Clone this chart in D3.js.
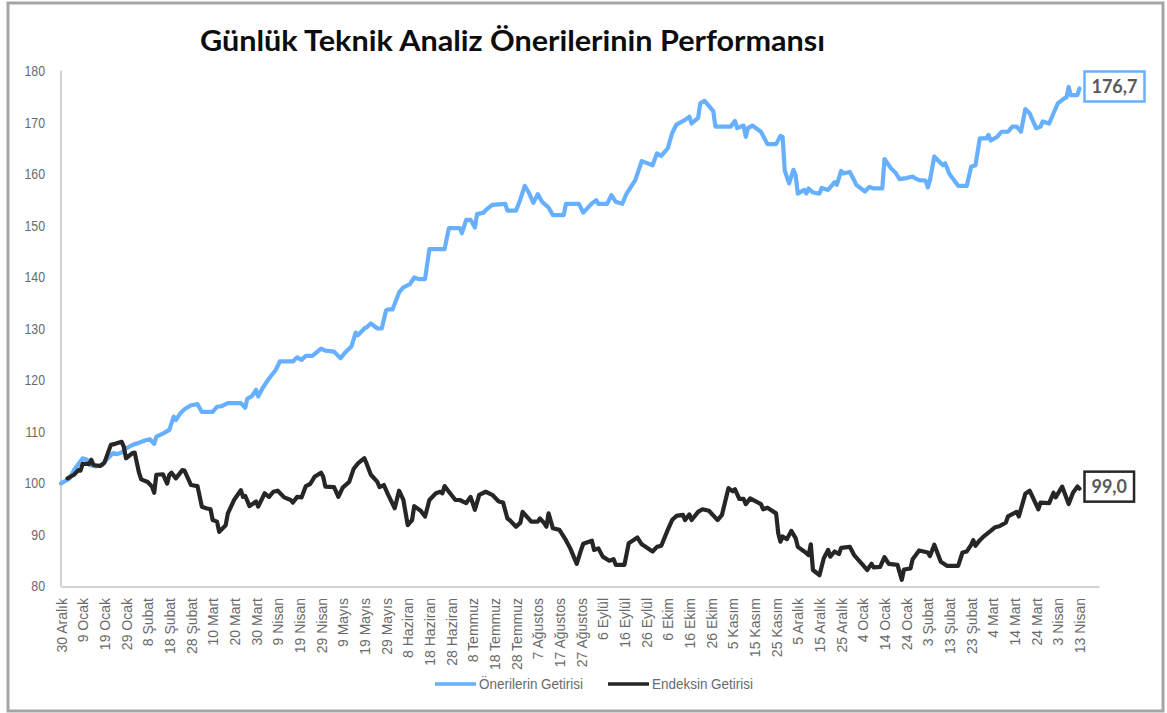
<!DOCTYPE html>
<html>
<head>
<meta charset="utf-8">
<script src="https://cdn.jsdelivr.net/npm/d3@7"></script>
<style>
  html, body { margin: 0; padding: 0; background: #fff; }
  svg { display: block; }
</style>
</head>
<body>
<svg id="chart" width="1167" height="713"></svg>
<script>
// ---------------- DATA ----------------
const chartTitle = "Günlük Teknik Analiz Önerilerinin Performansı";
const seriesNames = ["Önerilerin Getirisi", "Endeksin Getirisi"];
const startDateStr = "2018-12-30";   // day 0 (30 Aralık)

// x tick labels: every 10 days starting 30 Aralık
const xTickLabels = ["30 Aralık","9 Ocak","19 Ocak","29 Ocak","8 Şubat","18 Şubat","28 Şubat","10 Mart","20 Mart","30 Mart",
  "9 Nisan","19 Nisan","29 Nisan","9 Mayıs","19 Mayıs","29 Mayıs","8 Haziran","18 Haziran","28 Haziran","8 Temmuz",
  "18 Temmuz","28 Temmuz","7 Ağustos","17 Ağustos","27 Ağustos","6 Eylül","16 Eylül","26 Eylül","6 Ekim","16 Ekim",
  "26 Ekim","5 Kasım","15 Kasım","25 Kasım","5 Aralık","15 Aralık","25 Aralık","4 Ocak","14 Ocak","24 Ocak",
  "3 Şubat","13 Şubat","23 Şubat","4 Mart","14 Mart","24 Mart","3 Nisan","13 Nisan"];
const yTicks = [80, 90, 100, 110, 120, 130, 140, 150, 160, 170, 180];

// Önerilerin Getirisi: day offset from 30 Aralık 2018, value
const onerilerDays = [0,4,6,10,12,13,16,19,20,23,24,26,28,30,33,36,39,41,43,44,47,50,52,53,55,57,60,63,65,70,72,74,77,83,85,86,88,90,91,93,
  96,99,101,107,109,111,113,116,120,122,126,129,131,134,136,137,140,141,143,146,148,150,151,153,156,158,161,163,165,168,
  170,177,179,184,185,187,189,191,192,195,196,199,205,206,210,212,214,216,218,220,222,225,227,232,233,239,241,245,247,248,
  252,254,256,259,261,265,268,273,275,277,280,282,284,288,290,291,294,295,297,301,302,309,311,312,315,316,317,319,323,326,
  330,332,333,334,336,338,339,340,343,344,345,347,350,351,354,357,358,360,361,364,366,367,371,373,375,379,380,383,385,387,
  390,393,394,396,399,400,401,403,406,407,408,410,411,414,418,420,422,424,427,428,429,432,434,437,439,441,443,445,447,448,
  450,452,453,456,458,460,463,464,465,466,469,470];
const onerilerValues = [100.0,101.0,102.6,104.9,104.6,103.6,103.3,103.6,104.2,105.5,105.9,105.7,106.0,106.8,107.5,107.9,108.4,108.6,107.7,109.1,
  109.7,110.4,113.0,112.3,113.6,114.4,115.2,115.4,113.9,113.9,114.9,115.0,115.6,115.6,114.7,116.5,116.9,118.2,116.9,118.5,
  120.4,122.0,123.7,123.7,124.5,124.0,124.8,124.8,126.2,125.8,125.6,124.3,125.4,126.6,129.3,128.8,130.1,130.3,131.1,130.1,
  130.1,133.6,133.8,133.8,137.1,138.1,138.7,140.0,139.7,139.7,145.5,145.5,149.6,149.6,148.6,151.2,151.2,149.7,152.3,152.6,
  153.1,154.1,154.3,153.0,153.0,155.2,157.8,156.4,154.5,156.2,154.7,153.6,152.1,152.1,154.3,154.3,152.6,154.4,155.0,154.3,
  154.3,156.0,154.7,154.3,156.3,158.9,162.6,161.8,164.1,163.6,165.1,168.0,169.7,170.6,171.2,169.9,171.0,173.8,174.3,172.3,
  169.3,169.3,170.4,169.0,169.5,167.3,169.0,169.5,168.3,165.9,165.9,167.5,167.3,160.7,158.3,160.9,159.9,156.3,157.0,156.3,
  157.3,156.5,156.3,157.4,157.0,158.5,158.0,160.7,160.2,160.5,158.9,158.0,156.7,157.6,157.3,157.3,163.0,161.2,160.4,159.1,
  159.3,159.6,159.3,158.9,158.8,157.5,158.9,163.5,162.2,161.8,162.2,160.1,159.5,157.8,157.8,161.5,161.8,167.0,167.0,167.7,
  166.6,167.3,168.3,168.3,169.3,169.3,168.3,172.7,171.9,170.9,169.0,169.3,170.3,169.9,171.9,173.8,174.8,175.0,177.0,175.4,
  175.4,176.7];

// Endeksin Getirisi: day offset from 30 Aralık 2018, value
const endeksDays = [3,6,8,9,10,13,14,15,18,20,23,25,28,29,30,33,34,36,37,40,42,43,44,47,49,50,51,53,56,57,
  60,63,65,67,69,70,72,73,76,77,80,83,84,85,87,90,91,94,96,98,100,103,106,107,109,111,113,115,117,120,
  121,122,126,128,130,133,135,137,140,141,143,146,147,149,151,154,156,158,160,162,163,166,168,170,173,175,176,177,179,182,
  184,187,189,191,193,196,199,202,204,206,207,210,212,213,217,220,221,223,224,225,227,230,233,235,238,240,241,245,246,248,
  250,253,255,256,260,262,266,268,273,275,277,280,282,284,287,288,290,291,294,296,299,303,305,308,310,311,313,315,316,318,
  323,324,326,330,331,332,333,335,337,339,340,343,345,346,347,350,352,354,355,357,359,360,364,366,370,372,374,375,378,380,
  382,386,388,389,392,393,396,400,401,403,406,409,414,416,418,420,421,422,424,426,429,431,433,436,437,441,442,445,447,451,
  452,456,458,459,462,465,467,469,470];
const endeksValues = [101.0,101.7,102.6,102.5,103.8,103.8,104.6,103.6,103.4,104.0,107.5,107.7,108.1,107.1,104.9,105.9,106.0,102.1,100.8,100.3,
  99.4,98.2,101.7,101.8,100.0,101.7,102.1,101.0,102.6,102.5,99.7,99.5,95.5,95.2,95.0,92.9,92.6,90.6,91.9,94.2,
  96.9,98.7,97.4,97.6,95.6,96.5,95.5,98.1,97.4,98.4,98.6,97.3,96.8,96.3,97.4,97.3,99.5,99.9,101.3,102.1,
  101.3,99.4,99.3,97.4,99.2,100.3,102.8,103.9,104.9,103.9,101.7,100.3,99.3,99.7,97.8,95.2,98.6,96.8,91.9,92.9,
  95.6,94.7,93.6,96.8,98.1,98.4,98.1,99.5,98.4,96.8,96.8,96.2,97.4,94.9,97.8,98.4,97.8,96.5,96.3,93.2,
  92.9,91.6,92.4,94.5,92.6,92.6,93.2,92.3,91.6,94.2,91.3,91.0,89.0,87.4,84.4,87.1,88.3,88.9,87.1,87.4,
  85.8,85.0,85.3,84.2,84.2,88.4,89.5,88.2,86.8,87.7,87.9,91.0,92.9,93.7,93.9,92.9,94.0,92.9,94.5,95.0,
  94.7,92.9,93.9,99.1,98.5,98.9,97.0,97.0,96.0,97.1,96.0,95.0,95.3,94.2,90.3,88.7,89.7,89.2,90.8,89.4,
  87.7,86.8,86.1,88.2,83.2,82.2,85.5,87.1,85.8,86.8,86.3,87.5,87.7,86.1,84.2,83.2,84.4,83.7,83.8,85.7,
  84.4,84.2,81.3,83.3,83.5,85.3,87.0,86.6,85.9,88.1,84.8,84.0,84.0,86.6,86.8,88.1,89.0,87.9,89.0,89.8,
  90.8,91.5,91.7,92.4,93.6,94.5,93.6,98.0,98.6,95.0,96.3,96.2,98.2,97.3,99.4,96.0,98.2,99.4,99.0];

// ---------------- CHART ----------------
const parse = d3.timeParse("%Y-%m-%d");
const startDate = parse(startDateStr);
const dayToDate = n => d3.timeDay.offset(startDate, n);

const colors = ["#66b0ff", "#262626"];
const axisGray = "#a6a6a6";
const textGray = "#6a6a6a";
const font = "'Liberation Sans', Arial, sans-serif";

const svg = d3.select("#chart");

// outer frame
svg.append("rect")
  .attr("x", 8).attr("y", 3).attr("width", 1155).attr("height", 708)
  .attr("fill", "none").attr("stroke", "#a5a5a5").attr("stroke-width", 3);

const x = d3.scaleTime()
  .domain([startDate, dayToDate(479)])
  .range([61, 1099]);
const y = d3.scaleLinear().domain([80, 180]).range([586.5, 71.5]);

// title
svg.append("text")
  .attr("x", 200).attr("y", 51)
  .attr("textLength", 625).attr("lengthAdjust", "spacingAndGlyphs")
  .style("font-family", "Lato, 'Open Sans', sans-serif")
  .style("font-weight", 700).style("font-size", "29px").attr("fill", "#0d0d0d")
  .text(chartTitle);

// y axis
const yAxis = svg.append("g").attr("transform", "translate(61,0)")
  .call(d3.axisLeft(y).tickValues(yTicks).tickSize(0).tickSizeOuter(0).tickPadding(16));
yAxis.select(".domain").attr("stroke", axisGray).attr("d", `M0,${y(180) - 1}V${y(80)}`);
yAxis.selectAll("text")
  .style("font-family", font).style("font-size", "14px").attr("fill", textGray)
  .attr("transform", "scale(0.88,1)")
  .attr("x", -16 / 0.88);

// x axis
const tickDates = xTickLabels.map((_, i) => dayToDate(i * 10));
const xAxis = svg.append("g").attr("transform", "translate(0,586.5)")
  .call(d3.axisBottom(x).tickValues(tickDates).tickFormat((d, i) => xTickLabels[i]).tickSize(0).tickSizeOuter(0));
xAxis.select(".domain").attr("stroke", axisGray);
xAxis.selectAll("text")
  .style("font-family", font).style("font-size", "14px").attr("fill", textGray)
  .attr("x", 0).attr("y", 0).attr("dy", "0.36em")
  .attr("transform", "translate(0,11.5) rotate(-90)")
  .style("text-anchor", "end");

// lines
const series = [
  { name: seriesNames[0], days: onerilerDays, values: onerilerValues, color: colors[0] },
  { name: seriesNames[1], days: endeksDays, values: endeksValues, color: colors[1] }
];
const line = d3.line().x(d => x(d[0])).y(d => y(d[1]));
series.forEach(s => {
  const pts = s.days.map((d, i) => [dayToDate(d), s.values[i]]);
  s.pts = pts;
  svg.append("path")
    .attr("d", line(pts))
    .attr("fill", "none").attr("stroke", s.color)
    .attr("stroke-width", 4.2).attr("stroke-linejoin", "round").attr("stroke-linecap", "round");
});

// end labels
series.forEach(s => {
  const last = s.pts[s.pts.length - 1];
  const lx = x(last[0]) + 5, ly = y(last[1]) - 2;
  const g = svg.append("g");
  const t = g.append("text")
    .attr("x", lx + 7).attr("y", ly).attr("dy", "0.36em")
    .style("font-family", "Lato, 'Open Sans', sans-serif").style("font-weight", 700)
    .style("font-size", "18px").attr("fill", "#595959")
    .text(d3.format(".1f")(last[1]).replace(".", ","));
  const bb = t.node().getBBox();
  g.insert("rect", "text")
    .attr("x", lx).attr("y", ly - 15)
    .attr("width", bb.width + 14).attr("height", 30)
    .attr("fill", "#fff").attr("stroke", s.color).attr("stroke-width", 2.5);
});

// legend
const legendItems = [
  { name: seriesNames[0], color: colors[0], x0: 435, x1: 476, tx: 479, len: 104 },
  { name: seriesNames[1], color: colors[1], x0: 608, x1: 649, tx: 652, len: 101 }
];
legendItems.forEach(it => {
  svg.append("line").attr("x1", it.x0).attr("x2", it.x1).attr("y1", 684).attr("y2", 684)
    .attr("stroke", it.color).attr("stroke-width", 3.5);
  svg.append("text").attr("x", it.tx).attr("y", 684).attr("dy", "0.36em")
    .style("font-family", font).style("font-size", "14px").attr("fill", textGray)
    .attr("textLength", it.len).attr("lengthAdjust", "spacingAndGlyphs")
    .text(it.name);
});
</script>
</body>
</html>
